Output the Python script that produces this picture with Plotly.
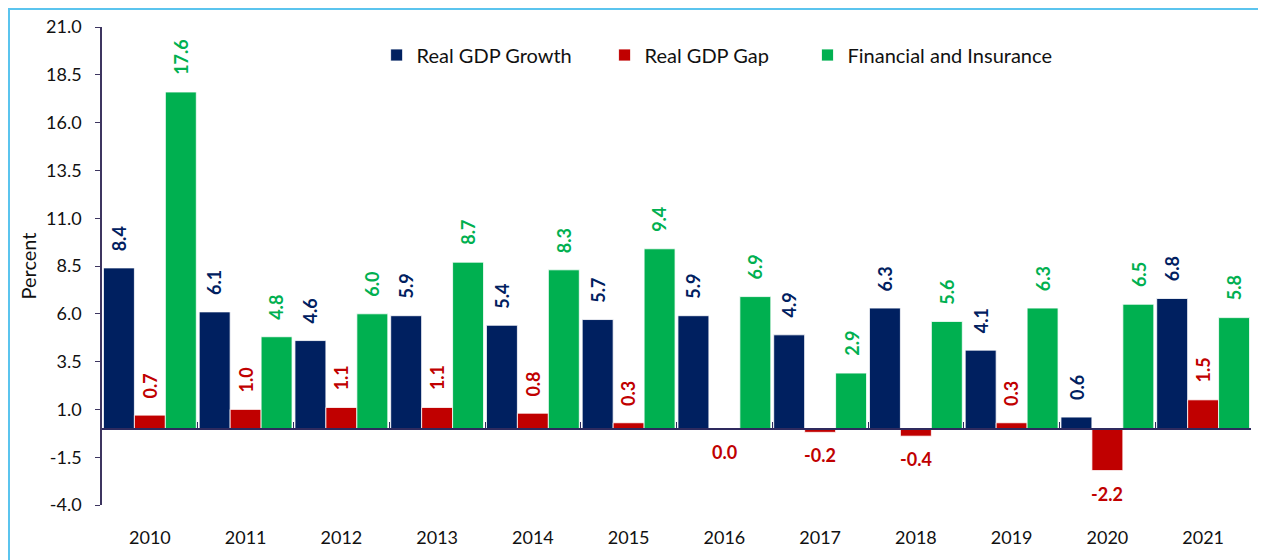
import plotly.graph_objects as go

years = ["2010", "2011", "2012", "2013", "2014", "2015", "2016", "2017", "2018", "2019", "2020", "2021"]
real_gdp_growth = [8.4, 6.1, 4.6, 5.9, 5.4, 5.7, 5.9, 4.9, 6.3, 4.1, 0.6, 6.8]
real_gdp_gap = [0.7, 1.0, 1.1, 1.1, 0.8, 0.3, 0.0, -0.2, -0.4, 0.3, -2.2, 1.5]
financial_insurance = [17.6, 4.8, 6.0, 8.7, 8.3, 9.4, 6.9, 2.9, 5.6, 6.3, 6.5, 5.8]
y_ticks = [-4.0, -1.5, 1.0, 3.5, 6.0, 8.5, 11.0, 13.5, 16.0, 18.5, 21.0]

series = [
    ("Real GDP Growth", real_gdp_growth, "#002060", "legend", 0.239),
    ("Real GDP Gap", real_gdp_gap, "#C00000", "legend2", 0.4374),
    ("Financial and Insurance", financial_insurance, "#00B050", "legend3", 0.614),
]

FONT = "Lato"
bargap = 0.03
w = (1 - bargap) / 3
xpos = list(range(len(years)))

L, T, PW, PH = 94, 19, 1149, 478

fig = go.Figure()
annotations = []
legends = {}
for k, (name, vals, color, lg, lx) in enumerate(series):
    fig.add_trace(go.Bar(
        x=xpos, y=vals, name=name, legend=lg,
        marker=dict(color=color, line=dict(color="rgba(255,255,255,0.8)", width=1)),
        hoverinfo="skip",
    ))
    legends[lg] = dict(orientation="h", x=lx, y=(PH - 28) / PH, xanchor="left", yanchor="middle",
                       font=dict(family=FONT, size=20, color="#111111"),
                       bgcolor="rgba(0,0,0,0)")
    for i, v in enumerate(vals):
        xa = i + (k - 1) * w
        if v > 0:
            annotations.append(dict(
                x=xa, y=v, xref="x", yref="y", text=f"<b>{v:.1f}</b>",
                showarrow=False, textangle=-90, yanchor="bottom", xanchor="center",
                yshift=15, font=dict(family=FONT, size=18, color=color)))
        else:
            annotations.append(dict(
                x=xa, y=v, xref="x", yref="y", text=f"<b>{v:.1f}</b>",
                showarrow=False, yanchor="top", xanchor="center",
                yshift=-10, font=dict(family=FONT, size=18, color=color)))

# invisible trace so the category axis line at zero is drawn
fig.add_trace(go.Scatter(x=[0], y=[0], xaxis="x2", mode="markers",
                         marker=dict(opacity=0), showlegend=False, hoverinfo="skip"))

fig.update_layout(
    width=1266, height=560,
    margin=dict(l=L, r=1266 - L - PW, t=T, b=560 - T - PH, autoexpand=False),
    paper_bgcolor="white", plot_bgcolor="white",
    barmode="group", bargap=bargap, bargroupgap=0,
    font=dict(family=FONT, size=18, color="#111111"),
    xaxis=dict(range=[-0.5, 11.5], tickvals=xpos, ticktext=years, showgrid=False,
               zeroline=False, showline=False, ticks="", tickfont=dict(size=18),
               ticklabelstandoff=20),
    xaxis2=dict(overlaying="x", matches="x", anchor="free", position=4 / 25,
                tickvals=[i - 0.5 for i in range(len(years) + 1)],
                showticklabels=False, ticks="inside", ticklen=6, tickcolor="#2E2A5E",
                showline=True, linecolor="#2E2A5E", linewidth=2, showgrid=False, zeroline=False),
    yaxis=dict(range=[-4, 21], tickvals=y_ticks, ticktext=[f"{t:.1f}" for t in y_ticks],
               showgrid=False, zeroline=False, showline=True, linecolor="#3D3560", linewidth=1.5,
               ticks="outside", ticklen=5, tickcolor="#3D3560", ticklabelstandoff=10,
               title=dict(text="Percent", font=dict(size=20), standoff=4),
               tickfont=dict(size=18)),
    annotations=annotations,
    shapes=[dict(type="rect", xref="paper", yref="paper",
                 x0=(1 - L) / PW, x1=1.2, y0=-0.3, y1=(PH + T - 1) / PH,
                 line=dict(color="#5BC4EE", width=2), fillcolor="rgba(0,0,0,0)", layer="below")],
    **legends,
)

fig.write_html("out.html")
